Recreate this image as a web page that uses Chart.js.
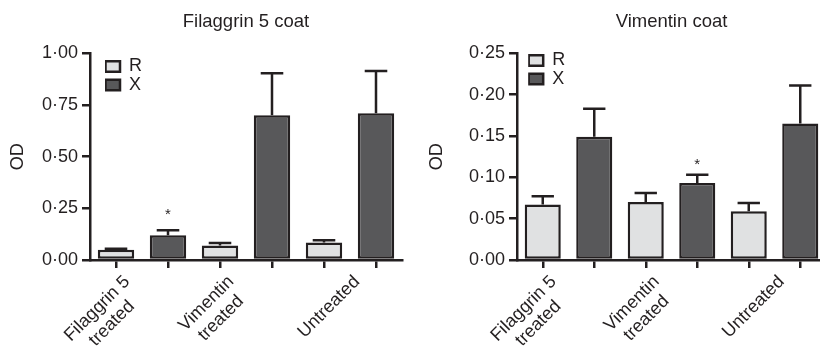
<!DOCTYPE html>
<html><head><meta charset="utf-8">
<script src="https://cdn.jsdelivr.net/npm/chart.js@4/dist/chart.umd.min.js"></script>
<style>
html,body{margin:0;padding:0;background:#fff;overflow:hidden;width:820px;height:346px;}
#wrap{position:relative;width:820px;height:346px;overflow:hidden;}
#c1{position:absolute;left:0;top:0;}
#c2{position:absolute;left:410px;top:0;}
</style></head><body>
<div id="wrap"><canvas id="c1" width="410" height="346"></canvas><canvas id="c2" width="420" height="346"></canvas></div>
<script>
// ---------- data ----------
const categories = [['Filaggrin 5', 'treated'], ['Vimentin', 'treated'], 'Untreated'];
const seriesNames = ['R', 'X'];

// Panel 1: Filaggrin 5 coat
const filTitle = 'Filaggrin 5 coat';
const filR = [0.050, 0.070, 0.085];
const filRErr = [0.005, 0.012, 0.010];
const filX = [0.120, 0.700, 0.710];
const filXErr = [0.024, 0.203, 0.204];
const filRSig = [false, false, false];
const filXSig = [true, false, false];
const filTickValues = [0, 0.25, 0.5, 0.75, 1.0];
const filTickLabels = ['0·00', '0·25', '0·50', '0·75', '1·00'];

// Panel 2: Vimentin coat
const vimTitle = 'Vimentin coat';
const vimR = [0.067, 0.070, 0.059];
const vimRErr = [0.010, 0.011, 0.010];
const vimX = [0.149, 0.093, 0.165];
const vimXErr = [0.034, 0.010, 0.046];
const vimRSig = [false, false, false];
const vimXSig = [false, true, false];
const vimTickValues = [0, 0.05, 0.10, 0.15, 0.20, 0.25];
const vimTickLabels = ['0·00', '0·05', '0·10', '0·15', '0·20', '0·25'];

const yTitle = 'OD';

// ---------- style ----------
const INK = '#231f20';
const R_FILL = '#e0e1e2';
const X_FILL = '#58585a';
const FONT = '"Liberation Sans", Arial, Helvetica, sans-serif';
Chart.defaults.font.family = FONT;
Chart.defaults.color = INK;

const slotLabels = categories.flatMap((c, i) => seriesNames.map(s => i + s));

function makeChart(canvas, cfg) {
  const errPlugin = {
    id: 'errbars',
    afterDatasetsDraw(chart) {
      const ctx = chart.ctx, ys = chart.scales.y;
      ctx.save();
      ctx.strokeStyle = INK; ctx.lineWidth = 2.5; ctx.lineCap = 'butt';
      chart.data.datasets.forEach((ds, di) => {
        const meta = chart.getDatasetMeta(di);
        meta.data.forEach((bar, j) => {
          const top = ys.getPixelForValue(ds.data[j] + ds.errors[j]);
          const half = bar.width * 0.31;
          ctx.beginPath();
          ctx.moveTo(bar.x, bar.y); ctx.lineTo(bar.x, top);
          ctx.moveTo(bar.x - half, top); ctx.lineTo(bar.x + half, top);
          ctx.stroke();
          if (ds.sig[j]) {
            ctx.fillStyle = INK; ctx.font = '15px ' + FONT;
            ctx.textAlign = 'center'; ctx.textBaseline = 'alphabetic';
            ctx.fillText('*', bar.x, top - cfg.starGap);
          }
        });
      });
      ctx.restore();
    }
  };
  const labelPlugin = {
    id: 'labelAlign',
    beforeDraw(chart) {
      const sc = chart.scales.x;
      const items = sc.getLabelItems();
      const ctx = chart.ctx;
      const k = Math.SQRT1_2;
      items.forEach((it, i) => {
        const lines = Array.isArray(it.label) ? it.label : [it.label];
        ctx.save(); ctx.font = it.font.string;
        const W = Math.max(...lines.map(l => ctx.measureText(l).width));
        ctx.restore();
        const tx = sc.getPixelForTick(i) + (lines.length > 1 ? cfg.dx2 : cfg.dx1);
        const ty = cfg.labelY;
        it.options.translation = [tx - W / 2 * k, ty + W / 2 * k];
        it.options.textAlign = 'center';
        it.options.textBaseline = 'middle';
        it.textOffset = 0;
      });
    }
  };
  const legendShift = {
    id: 'legendShift',
    afterLayout(chart) {
      const lg = chart.legend, ca = chart.chartArea;
      if (!lg) return;
      lg.left = ca.left + cfg.legDx; lg.right = lg.left + lg.width;
      lg.top = ca.top + cfg.legDy; lg.bottom = ca.bottom;
    }
  };
  return new Chart(canvas, {
    type: 'bar',
    data: {
      labels: categories,
      datasets: [
        {label: seriesNames[0], data: cfg.r, errors: cfg.rErr, sig: cfg.rSig, xAxisID: 'x', yAxisID: 'y',
         backgroundColor: R_FILL, borderColor: INK, borderWidth: 2.5, borderSkipped: false},
        {label: seriesNames[1], data: cfg.x, errors: cfg.xErr, sig: cfg.xSig, xAxisID: 'x', yAxisID: 'y',
         backgroundColor: X_FILL, borderColor: INK, borderWidth: 2.5, borderSkipped: false}
      ]
    },
    options: {
      responsive: false, animation: false, events: [],
      layout: {padding: {left: 0, right: cfg.padRight, top: 0, bottom: 0}},
      datasets: {bar: {barPercentage: 0.7, categoryPercentage: 1.0}},
      plugins: {
        title: {display: true, text: cfg.title, fullSize: false, color: INK,
                font: {size: 18.5, weight: 'normal', lineHeight: 1.2}, padding: {top: 11, bottom: 20.1}},
        legend: {position: 'chartArea', align: 'start',
                 labels: {boxWidth: 14.5, boxHeight: 10.5, padding: 0.5, color: INK, font: {size: 18}}},
        tooltip: {enabled: false}
      },
      scales: {
        x: {type: 'category', position: 'bottom', weight: 1, offset: true,
            grid: {display: false}, border: {display: false},
            ticks: {autoSkip: false, maxRotation: 45, minRotation: 45, padding: 0, color: INK,
                    font: {size: 18, lineHeight: 1.15}},
            afterFit: s => { s.height = 78; }},
        xt: {type: 'category', position: 'bottom', weight: 0, labels: slotLabels, offset: true,
             grid: {display: true, offset: false, drawOnChartArea: false, drawTicks: true, tickLength: 8,
                    lineWidth: 2.5, color: INK},
             border: {display: true, width: 2.5, color: INK},
             ticks: {display: false},
             afterFit: s => { s.height = 8; }},
        y: {type: 'linear', position: 'left', min: 0, max: cfg.tickValues[cfg.tickValues.length - 1],
            afterBuildTicks: s => { s.ticks = cfg.tickValues.map(v => ({value: v})); },
            ticks: {color: INK, font: {size: 18}, padding: 4, callback: (v, i) => cfg.tickLabels[i]},
            grid: {display: true, drawOnChartArea: false, drawTicks: true, tickLength: 8, lineWidth: 2.5, color: INK},
            border: {display: true, width: 2.5, color: INK},
            title: {display: true, text: yTitle, color: INK, font: {size: 18, lineHeight: 1.2}, padding: {top: cfg.odPad, bottom: 0}},
            afterFit: s => { s.width = cfg.yWidth; }}
      }
    },
    plugins: [errPlugin, labelPlugin, legendShift]
  });
}

makeChart(document.getElementById('c1'), {
  title: filTitle, r: filR, rErr: filRErr, x: filX, xErr: filXErr, rSig: filRSig, xSig: filXSig,
  tickValues: filTickValues, tickLabels: filTickLabels,
  padRight: 8, yWidth: 90, odPad: 7.7, starGap: 11,
  dx2: -15, dx1: 7, labelY: 279, legDx: 15, legDy: 3.7
});
makeChart(document.getElementById('c2'), {
  title: vimTitle, r: vimR, rErr: vimRErr, x: vimX, xErr: vimXErr, rSig: vimRSig, xSig: vimXSig,
  tickValues: vimTickValues, tickLabels: vimTickLabels,
  padRight: 4, yWidth: 107, odPad: 16.7, starGap: 6,
  dx2: -15, dx1: 7, labelY: 279, legDx: 11.2, legDy: -2.3
});
</script>
</body></html>
